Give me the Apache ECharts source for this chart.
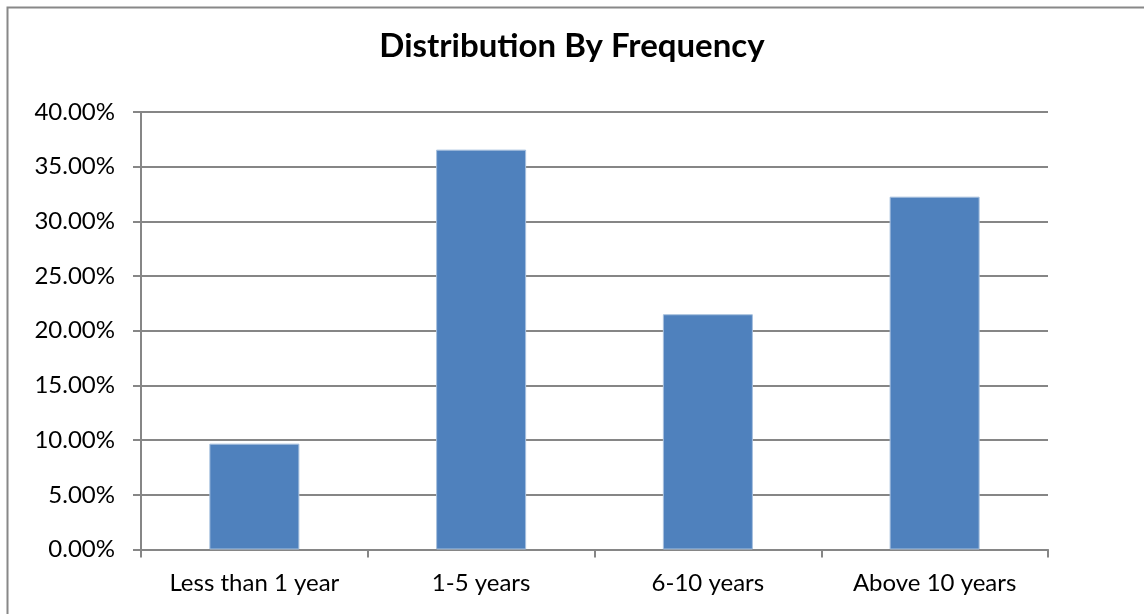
<!DOCTYPE html>
<html>
<head>
<meta charset="utf-8">
<script src="https://cdn.jsdelivr.net/npm/echarts@6/dist/echarts.min.js"></script>
<style>
html,body{margin:0;padding:0;background:#fff;}
#c{width:1144px;height:614px;}
</style>
</head>
<body>
<div id="c"></div>
<script>
const titleText = 'Distribution By Frequency';
const categories = ['Less than 1 year', '1-5 years', '6-10 years', 'Above 10 years'];
const values = [9.68, 36.56, 21.51, 32.26];
const yMin = 0, yMax = 40, yStep = 5;

const chart = echarts.init(document.getElementById('c'), null, {renderer: 'canvas'});
const font = 'Lato, "Open Sans", sans-serif';
chart.setOption({
  backgroundColor: '#ffffff',
  animation: false,
  title: {
    text: titleText,
    left: 'center',
    top: 25,
    textStyle: {fontFamily: font, fontWeight: 'bold', fontSize: 33, color: '#000'}
  },
  graphic: [{
    type: 'rect',
    shape: {x: 7.5, y: 7.5, width: 1160, height: 640},
    style: {fill: 'none', stroke: '#888888', lineWidth: 2}
  }],
  grid: {left: 141, right: 96, top: 112, bottom: 64.5, containLabel: false},
  xAxis: {
    type: 'category',
    data: categories,
    axisLine: {show: true, lineStyle: {color: '#868686', width: 2}},
    axisTick: {show: true, length: 8, lineStyle: {color: '#868686', width: 2}},
    axisLabel: {fontFamily: font, fontSize: 24, color: '#000', margin: 22}
  },
  yAxis: {
    type: 'value',
    min: yMin, max: yMax, interval: yStep,
    axisLine: {show: true, lineStyle: {color: '#868686', width: 2}},
    axisTick: {show: true, length: 8, lineStyle: {color: '#868686', width: 2}},
    splitLine: {show: true, lineStyle: {color: '#868686', width: 2}},
    axisLabel: {fontFamily: font, fontSize: 24, color: '#000', margin: 26,
      formatter: v => v.toFixed(2) + '%'}
  },
  series: [{
    type: 'bar',
    data: values,
    barWidth: '39.7%',
    itemStyle: {color: '#4F81BD', borderColor: '#A7C0DE', borderWidth: 1}
  }]
});
</script>
</body>
</html>
